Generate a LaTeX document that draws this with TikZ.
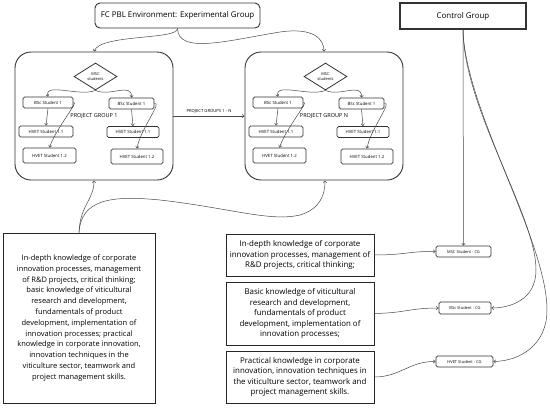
\documentclass[tikz,border=0pt]{standalone}
\usepackage{fontspec}
\setmainfont{Open Sans}
\usetikzlibrary{arrows.meta,shapes.geometric}
\newcommand{\fsz}[2]{\fontsize{#1}{#2}\selectfont}
\tikzset{
  conn/.style={draw=black!72, line width=0.5pt, -{Straight Barb[length=2pt,width=3.4pt]}},
  groupbox/.style={draw=black!80, line width=0.9pt, rounded corners=16pt, minimum width=158pt, minimum height=128pt, inner sep=0pt, font=\fsz{5.5}{6.5}},
  msc/.style={diamond, draw=black!80, line width=0.8pt, aspect=1.6, minimum width=43pt, minimum height=27pt, inner sep=0pt, align=center, font=\fsz{4}{5}},
  stud/.style={draw=black!80, line width=0.8pt, rounded corners=1.6pt, minimum height=11pt, inner sep=0pt, font=\fsz{4.3}{5}},
  topbox/.style={draw=black!80, line width=0.9pt, minimum height=25pt, inner sep=0pt, font=\fsz{7.9}{9}},
  txtbox/.style={draw=black!85, line width=0.9pt, align=center, inner sep=0pt, font=\fsz{7.5}{10.8}},
  cgbox/.style={draw=black!80, line width=0.8pt, rounded corners=1.6pt, minimum height=11pt, inner sep=0pt, font=\fsz{4}{5}},
}
\newcommand{\mkgroup}[3]{%
  \begin{scope}[xshift=#2]
    \node[groupbox] (#1box) at (94,116) {PROJECT GROUP #3};
    \node[msc] (#1dia) at (95.5,76.5) {MSC\\students};
    \node[stud, minimum width=50pt] (#1bl) at (48,102.5) {BSc Student 1};
    \node[stud, minimum width=45pt] (#1br) at (131.5,103.5) {BSc Student 1};
    \node[stud, minimum width=54pt] (#1hla) at (46,131.5) {HVET Student 1.1};
    \node[stud, minimum width=52pt] (#1hra) at (133,132) {HVET Student 1.1};
    \node[stud, minimum width=53pt, minimum height=15pt] (#1hlb) at (49.5,155.5) {HVET Student 1.2};
    \node[stud, minimum width=52pt, minimum height=15pt] (#1hrb) at (137,156.5) {HVET Student 1.2};
    \draw[conn] (#1dia.south) .. controls (80,97) and (44,82) .. (#1bl.north);
    \draw[conn] (#1dia.south) .. controls (110,97) and (132,82) .. (#1br.north);
    \draw[conn] (#1bl.south) -- (#1hla.north);
    \draw[conn] (#1br.south) -- (#1hra.north);
    \draw[conn] (#1bl.east) .. controls (80,100) and (55,130) .. (#1hlb.north);
    \draw[conn] (#1br.east) .. controls (163,101) and (140,130) .. (#1hrb.north);
  \end{scope}}
\begin{document}
\begin{tikzpicture}[x=1pt,y=-1pt]
\useasboundingbox (0,0) rectangle (550,408);
\node[topbox, rounded corners=5pt, minimum width=165pt] (title) at (177.5,15.5) {FC PBL Environment: Experimental Group};
\node[topbox, line width=1.1pt, minimum width=126pt, minimum height=26pt] (control) at (463,16) {Control Group};
\mkgroup{ga}{0pt}{1}
\mkgroup{gn}{230pt}{N}
% title to groups
\draw[conn] (title.south) .. controls (178,40) and (100,34) .. (gabox.north);
\draw[conn] (title.south) .. controls (178,55) and (230,40) .. (280,32) .. controls (315,27) and (324,40) .. (gnbox.north);
% between groups
\draw[conn] (gabox.east |- 0,116) -- node[above=-0.5pt, font=\fsz{4.2}{5}] {PROJECT GROUPS 1 - N} (gnbox.west |- 0,116);
% left big box
\node[txtbox, minimum width=152pt, minimum height=170pt] (left) at (79,318) {In-depth knowledge of corporate\\innovation processes, management\\of R\&D projects, critical thinking;\\basic knowledge of viticultural\\research and development,\\fundamentals of product\\development, implementation of\\innovation processes; practical\\knowledge in corporate innovation,\\innovation techniques in the\\viticulture sector, teamwork and\\project management skills.};
\draw[conn] (left.north) .. controls (80,205) and (94,200) .. (94,180.5);
\draw[conn] (left.north) .. controls (81,200) and (110,195) .. (160,200) .. controls (230,208) and (270,222) .. (300,215) .. controls (320,209) and (325,195) .. (325,180.5);
% right text boxes
\node[txtbox, minimum width=148pt, minimum height=42pt, font=\fsz{7.9}{10.5}] (ka) at (300,255) {In-depth knowledge of corporate\\innovation processes, management of\\R\&D projects, critical thinking;};
\node[txtbox, minimum width=148pt, minimum height=63pt, font=\fsz{7.9}{10.5}] (kb) at (300,313.5) {Basic knowledge of viticultural\\research and development,\\fundamentals of product\\development, implementation of\\innovation processes;};
\node[txtbox, minimum width=148pt, minimum height=52pt, font=\fsz{7.9}{10.5}] (kc) at (300,377) {Practical knowledge in corporate\\innovation, innovation techniques in\\the viticulture sector, teamwork and\\project management skills.};
% CG boxes
\node[cgbox, minimum width=55pt] (mcg) at (463.5,251.5) {MSC Student - CG};
\node[cgbox, minimum width=52pt, minimum height=12pt] (bcg) at (465,308) {BSc Student - CG};
\node[cgbox, minimum width=57pt] (hcg) at (464.5,361.5) {HVET Student - CG};
\draw[conn] (control.south) -- (mcg.north);
\draw[conn] (control.south) .. controls (464,110) and (536,215) .. (536,270) .. controls (536,300) and (510,308) .. (bcg.east);
\draw[conn] (control.south) .. controls (465,110) and (547,240) .. (547,310) .. controls (547,345) and (520,361) .. (hcg.east);
\draw[conn] (ka.east) .. controls (405,255) and (410,251) .. (mcg.west);
\draw[conn] (kb.east) .. controls (405,313) and (410,308) .. (bcg.west);
\draw[conn] (kc.east) .. controls (400,377) and (410,361) .. (hcg.west);
\end{tikzpicture}
\end{document}
